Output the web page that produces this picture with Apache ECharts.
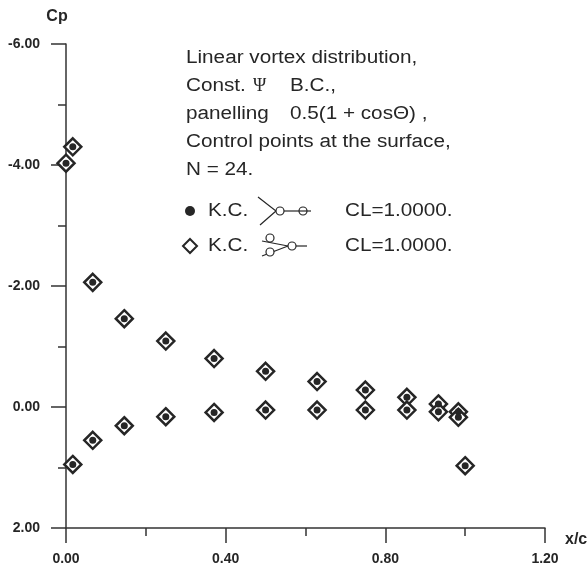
<!DOCTYPE html>
<html>
<head>
<meta charset="utf-8">
<script src="https://cdn.jsdelivr.net/npm/echarts@6/dist/echarts.min.js"></script>
<style>
html,body{margin:0;padding:0;background:#fff;}
#chart{width:588px;height:573px;}
</style>
</head>
<body>
<div id="chart"></div>
<script>
// ---- data ----
const xUpper = [0.0, 0.017, 0.067, 0.146, 0.25, 0.371, 0.5, 0.629, 0.75, 0.854, 0.933, 0.983, 1.0];
const cpUpperA = [-4.03, -4.30, -2.06, -1.46, -1.09, -0.80, -0.59, -0.42, -0.28, -0.16, -0.05, 0.08, 0.97];
const cpUpperB = [-4.03, -4.30, -2.06, -1.46, -1.09, -0.80, -0.59, -0.42, -0.28, -0.16, -0.05, 0.08, 0.97];
const xLower = [0.017, 0.067, 0.146, 0.25, 0.371, 0.5, 0.629, 0.75, 0.854, 0.933, 0.983];
const cpLowerA = [0.95, 0.55, 0.31, 0.16, 0.09, 0.05, 0.05, 0.05, 0.05, 0.08, 0.17];
const cpLowerB = [0.95, 0.55, 0.31, 0.16, 0.09, 0.05, 0.05, 0.05, 0.05, 0.08, 0.17];
const xTickLabels = ['0.00', '0.40', '0.80', '1.20'];
const yTickLabels = ['-6.00', '-4.00', '-2.00', '0.00', '2.00'];
const seriesNames = ['K.C. (a)', 'K.C. (b)'];
const legendLabels = ['K.C.', 'K.C.'];
const clLabels = ['CL=1.0000.', 'CL=1.0000.'];
const noteLines = [
  'Linear vortex distribution,',
  'Const.',
  'panelling',
  'Control points at the surface,',
  'N = 24.'
];
const yName = 'Cp';
const xName = 'x/c';

// ---- build ----
const ink = '#262626';
const sans = 'Liberation Sans, Arial, sans-serif';
function pairs(xs, ys) { return xs.map((x, i) => [x, ys[i]]); }
const dataA = pairs(xUpper, cpUpperA).concat(pairs(xLower, cpLowerA));
const dataB = pairs(xUpper, cpUpperB).concat(pairs(xLower, cpLowerB));

const axisLineStyle = { color: '#333', width: 1.5 };
function labelFmt(list, min, step) {
  return function (v) {
    const i = Math.round((v - min) / step);
    return list[i] !== undefined ? list[i] : v.toFixed(2);
  };
}

const SX = 1.15;
function txt(s, x, y, extra) {
  return Object.assign({
    type: 'text', x: x, y: y, scaleX: SX, silent: true,
    style: { text: s, font: '18px ' + sans, fill: ink, textAlign: 'left', textVerticalAlign: 'middle' }
  }, extra || {});
}
const lineY = [58, 86, 114, 142, 170];
const row1 = 211, row2 = 246;
const graphics = [
  txt(noteLines[0], 186, lineY[0]),
  txt(noteLines[1], 186, lineY[1]),
  { type: 'text', x: 253, y: lineY[1], silent: true,
    style: { text: '\u03A8', font: '18px Liberation Serif, serif', fill: ink, textVerticalAlign: 'middle' } },
  txt('B.C.,', 290, lineY[1]),
  txt(noteLines[2], 186, lineY[2]),
  txt('0.5(1 + cos\u0398) ,', 290, lineY[2]),
  txt(noteLines[3], 186, lineY[3]),
  txt(noteLines[4], 186, lineY[4]),
  // legend row 1
  { type: 'circle', shape: { cx: 190, cy: row1, r: 5 }, style: { fill: ink }, silent: true },
  txt(legendLabels[0], 208, row1),
  { type: 'polyline', shape: { points: [[258, 197], [276, 211], [260, 225]] }, style: { stroke: ink, lineWidth: 1.2, fill: null }, silent: true },
  { type: 'circle', shape: { cx: 280, cy: row1, r: 4 }, style: { fill: '#fff', stroke: ink, lineWidth: 1.2 }, silent: true },
  { type: 'line', shape: { x1: 284, y1: row1, x2: 311, y2: row1 }, style: { stroke: ink, lineWidth: 1.2 }, silent: true },
  { type: 'circle', shape: { cx: 303, cy: row1, r: 4 }, style: { fill: null, stroke: ink, lineWidth: 1.2 }, silent: true },
  txt(clLabels[0], 345, row1),
  // legend row 2
  { type: 'polygon', shape: { points: [[190, row2 - 7], [197, row2], [190, row2 + 7], [183, row2]] }, style: { fill: '#fff', stroke: ink, lineWidth: 2 }, silent: true },
  txt(legendLabels[1], 208, row2),
  { type: 'line', shape: { x1: 262, y1: row2 - 5, x2: 288, y2: row2 }, style: { stroke: ink, lineWidth: 1.2 }, silent: true },
  { type: 'line', shape: { x1: 262, y1: row2 + 10, x2: 288, y2: row2 }, style: { stroke: ink, lineWidth: 1.2 }, silent: true },
  { type: 'circle', shape: { cx: 270, cy: row2 - 8, r: 4 }, style: { fill: '#fff', stroke: ink, lineWidth: 1.2 }, silent: true },
  { type: 'circle', shape: { cx: 270, cy: row2 + 6, r: 4 }, style: { fill: '#fff', stroke: ink, lineWidth: 1.2 }, silent: true },
  { type: 'circle', shape: { cx: 292, cy: row2, r: 4 }, style: { fill: '#fff', stroke: ink, lineWidth: 1.2 }, silent: true },
  { type: 'line', shape: { x1: 296, y1: row2, x2: 307, y2: row2 }, style: { stroke: ink, lineWidth: 1.2 }, silent: true },
  txt(clLabels[1], 345, row2),
  // axis names
  { type: 'text', x: 57, y: 17, silent: true,
    style: { text: yName, font: 'bold 16px ' + sans, fill: ink, textAlign: 'center', textVerticalAlign: 'middle' } },
  { type: 'text', x: 565, y: 540, silent: true,
    style: { text: xName, font: 'bold 16px ' + sans, fill: ink, textAlign: 'left', textVerticalAlign: 'middle' } }
];

const axisLabelBase = { fontSize: 14, fontWeight: 'bold', color: ink, fontFamily: sans };

const option = {
  animation: false,
  backgroundColor: '#fff',
  grid: { left: 66, right: 43, top: 44, bottom: 45, containLabel: false, outerBoundsMode: 'none' },
  xAxis: {
    type: 'value', min: 0, max: 1.2, interval: 0.4,
    axisLine: { show: true, onZero: false, lineStyle: axisLineStyle },
    axisTick: { show: true, inside: false, length: 15, lineStyle: axisLineStyle },
    minorTick: { show: true, splitNumber: 2, length: 8, lineStyle: axisLineStyle },
    splitLine: { show: false },
    minorSplitLine: { show: false },
    axisLabel: Object.assign({ margin: 24, formatter: labelFmt(xTickLabels, 0, 0.4) }, axisLabelBase)
  },
  yAxis: {
    type: 'value', inverse: true, min: -6, max: 2, interval: 2,
    axisLine: { show: true, onZero: false, lineStyle: axisLineStyle },
    axisTick: { show: true, inside: false, length: 15, lineStyle: axisLineStyle },
    minorTick: { show: true, splitNumber: 2, length: 8, lineStyle: axisLineStyle },
    splitLine: { show: false },
    minorSplitLine: { show: false },
    axisLabel: Object.assign({ margin: 26, formatter: labelFmt(yTickLabels, -6, 2) }, axisLabelBase)
  },
  series: [
    {
      name: seriesNames[1], type: 'scatter', z: 2,
      symbol: 'diamond', symbolSize: 17,
      itemStyle: { color: '#fff', borderColor: ink, borderWidth: 2.5, opacity: 1 },
      data: dataB
    },
    {
      name: seriesNames[0], type: 'scatter', z: 3,
      symbol: 'circle', symbolSize: 7,
      itemStyle: { color: ink, opacity: 1 },
      data: dataA
    }
  ],
  graphic: { elements: graphics }
};

const chart = echarts.init(document.getElementById('chart'), null, { renderer: 'canvas' });
chart.setOption(option);
</script>
</body>
</html>
